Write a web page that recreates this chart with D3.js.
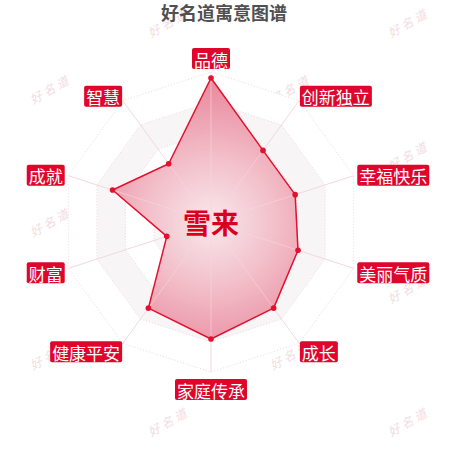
<!DOCTYPE html>
<html>
<head>
<meta charset="utf-8">
<script src="https://cdn.jsdelivr.net/npm/d3@7"></script>
<style>
  html, body { margin: 0; padding: 0; background: #fff; }
  svg { display: block; font-family: "Noto Sans CJK SC", "Noto Sans", sans-serif; }
</style>
</head>
<body>
<div id="chart"></div>
<script>
// data
const indicators = ['品德', '创新独立', '幸福快乐', '美丽气质', '成长', '家庭传承', '健康平安', '财富', '成就', '智慧'];
const values = [96, 59, 59, 61, 71, 78, 71, 31, 69, 48];
const maxValue = 100;
const ringLevels = [20, 40, 60, 80, 100];
const title = '好名道寓意图谱';
const centerName = '雪来';
const watermark = '好名道';

const W = 450, H = 450;
const cx = 211, cy = 222, R = 150;

const svg = d3.select('#chart').append('svg')
  .attr('width', W).attr('height', H);

const defs = svg.append('defs');
const grad = defs.append('radialGradient')
  .attr('id', 'areaGrad')
  .attr('gradientUnits', 'userSpaceOnUse')
  .attr('cx', cx).attr('cy', cy).attr('r', R);
grad.append('stop').attr('offset', '0%').attr('stop-color', '#f9e6ea');
grad.append('stop').attr('offset', '35%').attr('stop-color', '#f3c3cd');
grad.append('stop').attr('offset', '100%').attr('stop-color', '#e7788f');

const r = d3.scaleLinear().domain([0, maxValue]).range([0, R]);
const angle = d3.scaleLinear().domain([0, indicators.length]).range([0, 2 * Math.PI]);
const px = (i, v) => cx + r(v) * Math.sin(angle(i));
const py = (i, v) => cy - r(v) * Math.cos(angle(i));

// watermarks
const wm = svg.append('g').attr('class', 'watermarks');
d3.range(7).forEach(row => {
  const y = 22 + row * 66.5;
  const x0 = row % 2 === 0 ? 168 : 50;
  [x0, x0 + 240].forEach(x => {
    wm.append('text')
      .attr('transform', `translate(${x},${y}) rotate(-30)`)
      .attr('text-anchor', 'middle')
      .attr('dominant-baseline', 'central')
      .style('font-size', '12px')
      .style('font-style', 'italic')
      .style('letter-spacing', '3px')
      .style('fill', '#f2dde1')
      .text(watermark);
  });
});

// split areas
const ringPath = lv => d3.line()(indicators.map((d, i) => [px(i, lv), py(i, lv)])) + 'Z';
const bandColors = ['#ffffff', '#f9f6f7', '#ffffff', '#f8f5f6', '#ffffff'];
const grid = svg.append('g').attr('class', 'grid');
ringLevels.slice().reverse().forEach((lv, k) => {
  grid.append('path')
    .attr('d', ringPath(lv))
    .attr('fill', bandColors[ringLevels.length - 1 - k]);
});
ringLevels.forEach(lv => {
  grid.append('path')
    .attr('d', ringPath(lv))
    .attr('fill', 'none')
    .attr('stroke', '#ecd9dc')
    .attr('stroke-width', 1)
    .attr('stroke-dasharray', '1,2');
});
grid.selectAll('.axis-line')
  .data(indicators)
  .enter()
  .append('line')
  .attr('class', 'axis-line')
  .attr('x1', cx).attr('y1', cy)
  .attr('x2', (d, i) => px(i, maxValue))
  .attr('y2', (d, i) => py(i, maxValue))
  .attr('stroke', '#f3d8dd')
  .attr('stroke-width', 1);

// data area
const pts = values.map((v, i) => [px(i, v), py(i, v)]);
svg.append('path')
  .attr('d', d3.line()(pts) + 'Z')
  .attr('fill', 'url(#areaGrad)')
  .attr('fill-opacity', 0.92)
  .attr('stroke', '#e3102f')
  .attr('stroke-width', 1.5)
  .attr('stroke-linejoin', 'round');

// axis lines faintly over the area
svg.selectAll('.axis-over')
  .data(indicators)
  .enter()
  .append('line')
  .attr('class', 'axis-over')
  .attr('x1', cx).attr('y1', cy)
  .attr('x2', (d, i) => px(i, values[i]))
  .attr('y2', (d, i) => py(i, values[i]))
  .attr('stroke', '#f6dbe1')
  .attr('stroke-opacity', 0.6)
  .attr('stroke-width', 1);

svg.selectAll('.dot')
  .data(values)
  .enter()
  .append('circle')
  .attr('class', 'dot')
  .attr('cx', (d, i) => px(i, d))
  .attr('cy', (d, i) => py(i, d))
  .attr('r', 2.8)
  .attr('fill', '#e3102f');

// indicator labels
const labelR = 158;
const labels = svg.append('g').attr('class', 'labels');
indicators.forEach((name, i) => {
  const a = angle(i);
  const s = Math.sin(a), c = Math.cos(a);
  const ax = cx + labelR * s, ay = cy - labelR * c;
  const g = labels.append('g');
  const t = g.append('text')
    .style('font-size', '17px')
    .style('fill', '#fff')
    .attr('dominant-baseline', 'central')
    .text(name);
  const bb = t.node().getBBox();
  const bw = bb.width + 4, bh = 21;
  let x0;
  if (Math.abs(s) < 0.1) x0 = ax - bw / 2;
  else if (s > 0) x0 = ax - 4;
  else x0 = ax - bw + 4;
  let y0;
  if (Math.abs(s) < 0.1) y0 = c > 0 ? ay - bh + 5 : ay - 1;
  else y0 = ay - bh / 2 + 2;
  g.insert('rect', 'text')
    .attr('x', x0).attr('y', y0)
    .attr('width', bw).attr('height', bh)
    .attr('rx', 2)
    .attr('fill', '#e0062b');
  t.attr('x', x0 + 2).attr('y', y0 + bh / 2 + 0.5);
});

// center name
svg.append('text')
  .attr('x', cx).attr('y', cy)
  .attr('text-anchor', 'middle')
  .attr('dominant-baseline', 'central')
  .style('font-size', '28px')
  .style('font-weight', 'bold')
  .style('fill', '#d9001e')
  .text(centerName);

// title
svg.append('text')
  .attr('x', 224).attr('y', 12)
  .attr('text-anchor', 'middle')
  .attr('dominant-baseline', 'central')
  .style('font-size', '18px')
  .style('font-weight', 'bold')
  .style('fill', '#505050')
  .text(title);
</script>
</body>
</html>
